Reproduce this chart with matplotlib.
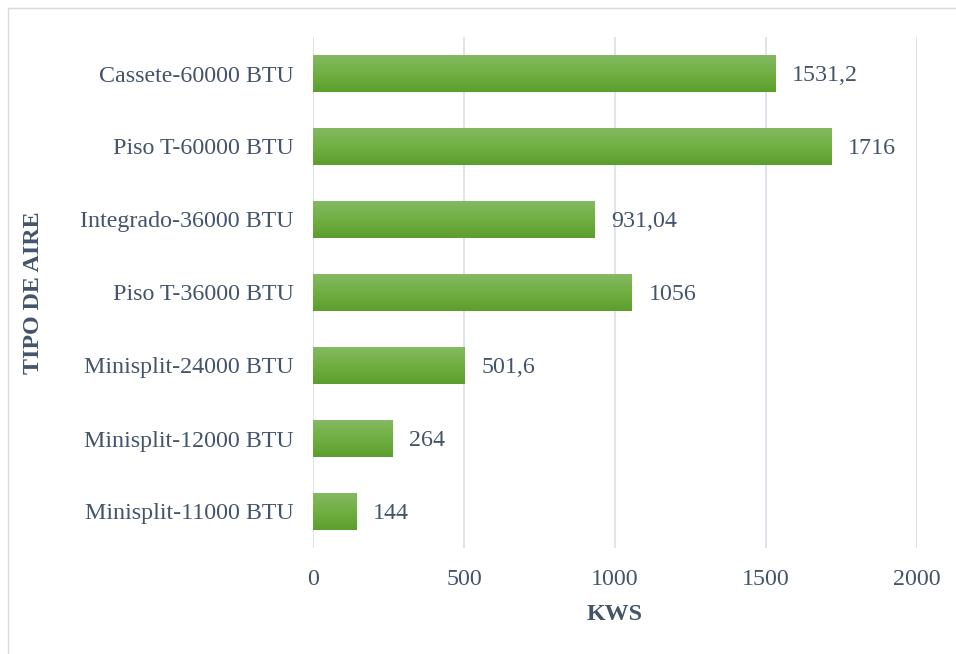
import matplotlib
matplotlib.use("Agg")
import matplotlib.pyplot as plt
import numpy as np
from matplotlib.colors import LinearSegmentedColormap
from matplotlib.patches import Rectangle

categories = [
    "Minisplit-11000 BTU",
    "Minisplit-12000 BTU",
    "Minisplit-24000 BTU",
    "Piso T-36000 BTU",
    "Integrado-36000 BTU",
    "Piso T-60000 BTU",
    "Cassete-60000 BTU",
]
values = [144, 264, 501.6, 1056, 931.04, 1716, 1531.2]
value_labels = ["144", "264", "501,6", "1056", "931,04", "1716", "1531,2"]
x_ticks = [0, 500, 1000, 1500, 2000]

text_color = "#44546A"
fs = 17.3
plt.rcParams["font.family"] = ["Liberation Serif", "DejaVu Serif"]

fig = plt.figure(figsize=(9.56, 6.54), dpi=100)
ax = fig.add_axes([313 / 956, 1 - 548 / 654, (917 - 313) / 956, (548 - 37) / 654])

# outer chart frame
fig.patches.append(Rectangle((8 / 956, -0.01), 1.0, 1 - 8 / 654 + 0.01,
                             transform=fig.transFigure, fill=False,
                             edgecolor="#D9D9D9", linewidth=1.0))

# bar fill: lighter at the top, darker at the bottom
grad = LinearSegmentedColormap.from_list("g", ["#5C9E2E", "#71AF42", "#85BA65"])
bar_h = 0.52
y = np.arange(len(categories))
bars = ax.barh(y, values, height=bar_h, color="#70AD47", zorder=2)
gradient = np.linspace(0, 1, 256).reshape(-1, 1)
for b in bars:
    x0, y0 = b.get_x(), b.get_y()
    w, h = b.get_width(), b.get_height()
    im = ax.imshow(gradient, cmap=grad, aspect="auto", origin="lower",
                   extent=[x0, x0 + w, y0, y0 + h], zorder=3)
    im.set_clip_path(b)

for yi, v, lab in zip(y, values, value_labels):
    ax.text(v + 55, yi - 0.03, lab, va="center", ha="left", fontsize=fs, color=text_color)

ax.set_xlim(0, 2000)
ax.set_ylim(-0.5, len(categories) - 0.5)
ax.set_xticks(x_ticks)
ax.set_xticklabels([str(t) for t in x_ticks], fontsize=fs, color=text_color)
ax.set_yticks(y)
ax.set_yticklabels(categories, fontsize=fs, color=text_color)
ax.tick_params(axis="y", length=0, pad=14)
ax.tick_params(axis="x", length=0, pad=15)
ax.grid(axis="x", color="#D9DEE7", linewidth=1.2, zorder=0)
ax.set_axisbelow(True)
for s in ax.spines.values():
    s.set_visible(False)

ax.set_xlabel("KWS", fontsize=fs, fontweight="bold", color=text_color, labelpad=10)
ax.set_ylabel("TIPO DE AIRE", fontsize=fs, fontweight="bold", color=text_color, labelpad=26)

fig.savefig("out.png", dpi=100)
